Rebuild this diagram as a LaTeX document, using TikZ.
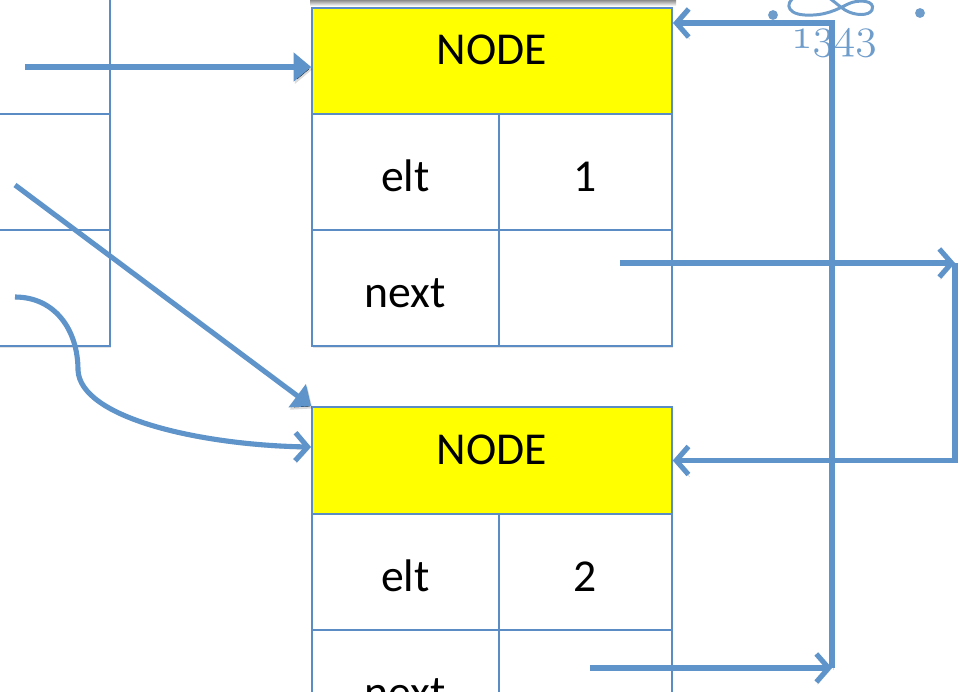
\documentclass[tikz,border=0pt]{standalone}
\usepackage{fontspec}
\usepackage{tikz}
\usetikzlibrary{positioning,calc,arrows.meta,shadows}
\newfontfamily\carlito{Carlito}
\definecolor{linkblue}{HTML}{5E94C9}
\definecolor{boxblue}{HTML}{5B8CC4}
\definecolor{nodeyellow}{HTML}{FFFF00}
\definecolor{logoblue}{HTML}{6F9DCB}
\newcommand{\cellfont}{\carlito\fontsize{26}{30}\selectfont}

\begin{document}
\begin{tikzpicture}[x=0.02cm, y=-0.02cm,
    head/.style={rectangle, draw=boxblue, fill=nodeyellow, line width=0.9pt, minimum width=7.2cm, minimum height=2.12cm, inner sep=0pt, text height=4.5pt, text depth=0pt, font=\cellfont, drop shadow={shadow xshift=0.6pt, shadow yshift=-1.4pt, opacity=0.22}},
    cell/.style={rectangle, draw=boxblue, fill=white, line width=0.9pt, minimum height=2.32cm, inner sep=0pt, text height=22.7pt, text depth=0pt, font=\cellfont, drop shadow={shadow xshift=0.6pt, shadow yshift=-1.4pt, opacity=0.22}},
    keycell/.style={cell, minimum width=3.74cm},
    valcell/.style={cell, minimum width=3.46cm},
    leftcell/.style={cell, minimum width=4cm},
    link/.style={line width=2.9pt, draw=linkblue, preaction={draw=black, draw opacity=0.14, transform canvas={xshift=0.7pt, yshift=-1.3pt}}},
    ptr/.style={link, -{Triangle[length=10pt,width=16pt]}},
    ret/.style={link, -{Straight Barb[length=7pt,width=16pt]}},
    logo/.style={logoblue, line width=1.7pt}
  ]
    \clip (0,0) rectangle (961,691);

    % Shadow of the box above
    \shade[top color=black!45, bottom color=white] (310,0) rectangle (676,6);

    % Table on the left
    \node[leftcell] (lt0) at (10,56) {};
    \node[leftcell] (lt1) at (10,172) {};
    \node[leftcell] (lt2) at (10,288) {};

    % First node
    \node[head] (n1head) at (492,61) {NODE};
    \node[keycell] (n1elt) at (405.5,172) {elt};
    \node[valcell] (n1val) at (585.5,172) {1};
    \node[keycell] (n1next) at (405.5,288) {next};
    \node[valcell] (n1ptr) at (585.5,288) {};

    % Second node
    \node[head, minimum height=2.14cm] (n2head) at (492,460.5) {NODE};
    \node[keycell] (n2elt) at (405.5,572) {elt};
    \node[valcell] (n2val) at (585.5,572) {2};
    \node[keycell] (n2next) at (405.5,688) {next};
    \node[valcell] (n2ptr) at (585.5,688) {};

    % Logo in the corner
    \fill[logoblue] (773,15) circle (2.8pt);
    \fill[logoblue] (920,13) circle (2.8pt);
    \draw[logo] (802,-6) .. controls (784,-1) and (784,14) .. (805,15) .. controls (825,16) and (836,10) .. (848,4) .. controls (858,-1) and (876,0) .. (872,10) .. controls (869,16) and (855,16) .. (845,10) .. controls (836,4) and (830,-3) .. (820,-7);
    \node[logoblue, inner sep=0pt] (year) at (834,43) {\fontsize{24}{26}\usefont{OML}{cmm}{m}{it}1343};

    % Pointers from the table
    \coordinate (p0) at (25,67);
    \coordinate (p1) at (15,185);
    \coordinate (p2) at (15,297);
    \coordinate (q2) at (311,447);
    \draw[ptr] (p0) -- (p0 -| n1head.west);
    \draw[ptr] (p1) -- (n2head.north west);
    \draw[ret] (p2) .. controls (55,297) and (78,330) .. (78,370) .. controls (80,418) and (200,445) .. (q2);

    % next of the first node
    \coordinate (s1) at (620,263);
    \coordinate (c1) at (955,263);
    \draw[ret] (s1) -- (c1);
    \draw[ret] (c1) |- (n2head.east);

    % next of the second node
    \coordinate (s2) at (590,668);
    \coordinate (c2) at (832,668);
    \coordinate (e2) at (673,23);
    \draw[ret] (s2) -- (c2);
    \draw[ret] (c2) |- (e2);
  \end{tikzpicture}
\end{document}
